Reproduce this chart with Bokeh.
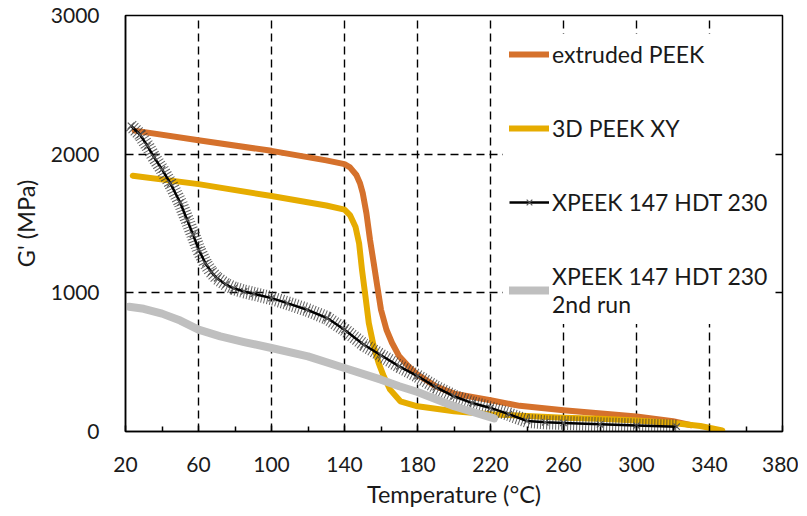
from bokeh.plotting import figure
from bokeh.models import Range1d, FixedTicker, Legend, LegendItem
from bokeh.embed import file_html
from bokeh.resources import INLINE

# ---- data ----
ext_T = [25, 60, 100, 130, 140, 143, 146.5, 148.5, 150, 152, 154, 156, 158, 160, 163, 166, 170, 175, 180, 190, 200, 220, 236, 260, 300, 320, 330]
ext_G = [2170, 2100, 2024, 1955, 1928, 1905, 1850, 1790, 1719, 1575, 1381, 1215, 1045, 878, 734, 640, 542, 470, 410, 326, 273, 225, 185, 153, 108, 74, 45]

xy_T = [24, 60, 100, 130, 140, 143, 146, 148, 149.6, 151.5, 153.3, 156, 158.7, 161.5, 165, 170.6, 180, 200, 220, 240, 260, 280, 300, 320, 335, 347]
xy_G = [1845, 1784, 1698, 1630, 1600, 1561, 1477, 1357, 1165, 973, 784, 614, 494, 398, 302, 218, 182, 146, 125, 112, 100, 92, 80, 62, 40, 8]

hdt_T = [23, 28, 32, 35.5, 40, 44.6, 50, 53.8, 57, 60.2, 63.8, 67, 70.2, 75, 79.3, 85, 90.3, 100, 108.6, 119.5, 130.5, 140, 150.6, 160, 170, 180, 190, 200, 210, 220, 230, 240, 250, 260, 280, 300, 322]
hdt_G = [2205, 2140, 2060, 1981, 1890, 1789, 1650, 1525, 1420, 1309, 1213, 1150, 1105, 1060, 1033, 1010, 993, 962, 926, 878, 818, 734, 626, 550, 470, 400, 320, 254, 205, 170, 125, 76, 66, 62, 52, 43, 35]

run2_T = [22, 30, 40, 50, 60, 72, 85, 100, 120, 140, 160, 170, 180, 200, 222]
run2_G = [900, 885, 850, 800, 735, 686, 645, 602, 542, 458, 374, 326, 285, 182, 95]

x_ticks = [20, 60, 100, 140, 180, 220, 260, 300, 340, 380]
x_minor = [40, 80, 120, 160, 200, 240, 280, 320, 360]
y_ticks = [0, 1000, 2000, 3000]

labels = ["extruded PEEK", "3D PEEK XY", "XPEEK 147 HDT 230", "XPEEK 147 HDT 230\n2nd run"]
colors = ["#D5712C", "#E6AC00", "#000000", "#BFBFBF"]

FONT = "Lato"
TXT = "#1a1a1a"

p = figure(width=798, height=514, output_backend="svg", toolbar_location=None,
           x_range=Range1d(20, 380), y_range=Range1d(0, 3000),
           min_border_left=125, min_border_right=16, min_border_top=15, min_border_bottom=83,
           background_fill_color="white", border_fill_color="white")
p.outline_line_color = "black"
p.outline_line_width = 1.5
p.outline_line_alpha = 1.0

# axes
p.xaxis.ticker = FixedTicker(ticks=x_ticks, minor_ticks=x_minor)
p.yaxis.ticker = FixedTicker(ticks=y_ticks)
for ax in (p.xaxis[0], p.yaxis[0]):
    ax.axis_line_color = "black"
    ax.axis_line_width = 1.5
    ax.major_label_text_font = FONT
    ax.major_label_text_font_size = "21px"
    ax.major_label_text_color = TXT
    ax.axis_label_text_font = FONT
    ax.axis_label_text_font_size = "23.5px"
    ax.axis_label_text_font_style = "normal"
    ax.axis_label_text_color = TXT
p.xaxis.major_tick_in = 6
p.xaxis.major_tick_out = 0
p.xaxis.minor_tick_in = 5
p.xaxis.minor_tick_out = 0
p.xaxis.major_tick_line_color = "black"
p.xaxis.minor_tick_line_color = "black"
p.xaxis.major_tick_line_width = 1.5
p.xaxis.minor_tick_line_width = 1.5
p.xaxis.major_label_standoff = 25
p.xaxis.axis_label = "Temperature (°C)"
p.xaxis.axis_label_standoff = 5
p.yaxis.major_tick_in = 0
p.yaxis.major_tick_out = 0
p.yaxis.minor_tick_line_color = None
p.yaxis.major_label_standoff = 26
p.yaxis.axis_label = "G' (MPa)"
p.yaxis.axis_label_standoff = 8

# grid
for g in (p.xgrid[0], p.ygrid[0]):
    g.grid_line_color = "black"
    g.grid_line_dash = "8 5"
    g.grid_line_width = 1.4
p.xgrid.ticker = FixedTicker(ticks=x_ticks)
p.ygrid.ticker = FixedTicker(ticks=y_ticks)

# series
r_ext = p.line(ext_T, ext_G, line_color=colors[0], line_width=6, line_cap="round", line_join="round")
r_xy = p.line(xy_T, xy_G, line_color=colors[1], line_width=6, line_cap="round", line_join="round")
r_band = p.line(hdt_T, hdt_G, line_color="#3a3a3a", line_alpha=0.8, line_width=14, line_dash="1 2")
r_hdt = p.line(hdt_T, hdt_G, line_color="black", line_width=2.5, line_join="round")
r_x = p.scatter(hdt_T, hdt_G, marker="x", size=9, line_color="#555555", line_width=1.2)
r_run2 = p.line(run2_T, run2_G, line_color=colors[3], line_width=8, line_cap="round", line_join="round")

legend = Legend(items=[
    LegendItem(label=labels[0], renderers=[r_ext]),
    LegendItem(label=labels[1], renderers=[r_xy]),
    LegendItem(label=labels[2], renderers=[r_hdt, r_x]),
    LegendItem(label=labels[3], renderers=[r_run2]),
], location=(378, 107))
legend.label_text_font = FONT
legend.label_text_font_size = "23px"
legend.label_text_color = TXT
legend.glyph_width = 40
legend.glyph_height = 20
legend.label_standoff = 3
legend.spacing = 46
legend.padding = 6
legend.margin = 0
legend.border_line_alpha = 0
legend.background_fill_color = "white"
legend.background_fill_alpha = 1.0
p.add_layout(legend)

open("out.html", "w").write(file_html(p, INLINE))
